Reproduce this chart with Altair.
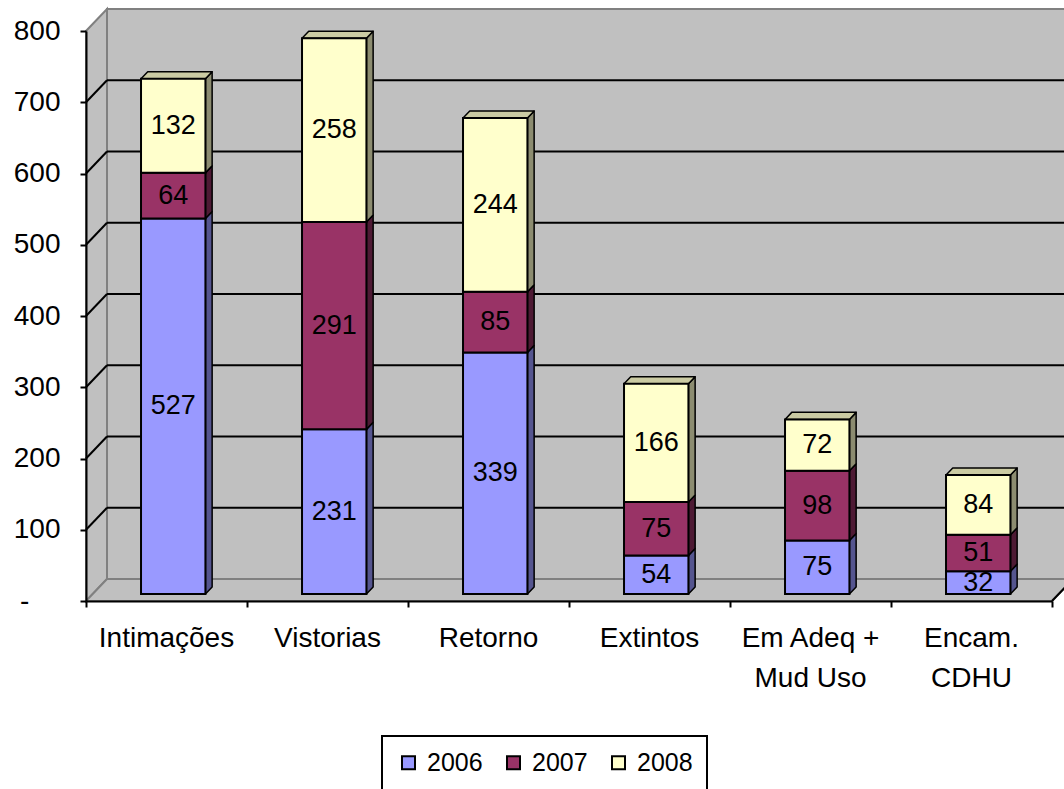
import altair as alt
import pandas as pd

# ---------------- data ----------------
categories = ["Intimações", "Vistorias", "Retorno", "Extintos", "Em Adeq +\nMud Uso", "Encam.\nCDHU"]
years = ["2006", "2007", "2008"]
v2006 = [527, 231, 339, 54, 75, 32]
v2007 = [64, 291, 85, 75, 98, 51]
v2008 = [132, 258, 244, 166, 72, 84]
y_ticks = [0, 100, 200, 300, 400, 500, 600, 700, 800]

front_colors = ["#9999FF", "#993366", "#FFFFCC"]
side_colors = ["#55558F", "#4E1A34", "#8C8C70"]
top_colors = ["#7A7ABF", "#7A2952", "#CBCBA3"]

# ---------------- geometry (style) ----------------
W, H = 966, 570
PAD = {"left": 86, "top": 31, "right": 12, "bottom": 188}
YMAX = 800
NCAT = len(categories)
px_x = W / NCAT          # pixels per category unit
px_y = H / YMAX          # pixels per value unit
wdx = 21 / px_x          # wall depth (x, in category units)
wdy = 22 / px_y          # wall depth (y, in value units)
f0, fd, bw = 0.32, 0.32, 0.4   # bar front offset, bar depth, bar width

series = [v2006, v2007, v2008]

front_rows, side_rows, top_rows, label_rows = [], [], [], []
for i, cat in enumerate(categories):
    lo = 0
    xl = i + (1 - bw) / 2 + f0 * wdx
    xr = xl + bw
    for k, yr in enumerate(years):
        v = series[k][i]
        hi = lo + v
        y0 = lo + f0 * wdy
        y1 = hi + f0 * wdy
        front_rows.append({"x": xl, "x2": xr, "y": y0, "y2": y1, "year": yr})
        sid = f"{i}-{k}"
        side_rows.append({"id": sid, "x": xr, "y": y0, "y2": y1, "c": side_colors[k]})
        side_rows.append({"id": sid, "x": xr + fd * wdx, "y": y0 + fd * wdy,
                          "y2": y1 + fd * wdy, "c": side_colors[k]})
        label_rows.append({"cx": (xl + xr) / 2, "cy": (y0 + y1) / 2, "v": v})
        if k == len(years) - 1:
            top_rows.append({"id": sid, "y": y1, "x": xl, "x2": xr, "c": top_colors[k]})
            top_rows.append({"id": sid, "y": y1 + fd * wdy, "x": xl + fd * wdx,
                             "x2": xr + fd * wdx, "c": top_colors[k]})
        lo = hi

front_df = pd.DataFrame(front_rows)
side_df = pd.DataFrame(side_rows)
top_df = pd.DataFrame(top_rows)
label_df = pd.DataFrame(label_rows)
cat_df = pd.DataFrame({"cx": [i + 0.5 for i in range(NCAT)], "cy": [0] * NCAT, "cat": categories})

back_df = pd.DataFrame({"x": [wdx], "x2": [NCAT + wdx], "y": [wdy], "y2": [YMAX + wdy]})
left_df = pd.DataFrame({"x": [0, wdx], "y": [0, wdy], "y2": [YMAX, YMAX + wdy]})
floor_df = pd.DataFrame({"y": [0, wdy], "x": [0, wdx], "x2": [NCAT, NCAT + wdx]})
grid_vals = y_ticks[1:-1]
gback_df = pd.DataFrame({"xa": [wdx] * len(grid_vals), "xb": [NCAT + wdx] * len(grid_vals),
                         "ya": [g + wdy for g in grid_vals]})
gleft_df = pd.DataFrame({"xa": [0] * len(grid_vals), "xb": [wdx] * len(grid_vals),
                         "ya": grid_vals, "yb": [g + wdy for g in grid_vals]})
fedge_df = pd.DataFrame({"xa": [NCAT], "xb": [NCAT + wdx], "ya": [0], "yb": [wdy]})

# ---------------- scales / axes ----------------
XS = alt.Scale(domain=[0, NCAT], nice=False, zero=False)
YS = alt.Scale(domain=[0, YMAX], nice=False, zero=False)
AX = alt.Axis(title=None, values=list(range(NCAT + 1)), labels=False, grid=False,
              domainColor="black", domainWidth=2, tickColor="black", tickWidth=2,
              tickSize=6, zindex=1)
AY = alt.Axis(title=None, values=y_ticks, grid=False, domainColor="black", domainWidth=2,
              tickColor="black", tickWidth=2, tickSize=6, labelPadding=20,
              labelFontSize=28, labelColor="black", labelFont="Liberation Sans",
              labelExpr="datum.value == 0 ? '-\u00a0\u00a0\u00a0\u00a0\u200b' : datum.label",
              zindex=1)


def X(f, **kw):
    return alt.X(f, scale=XS, axis=AX, **kw)


def Y(f, **kw):
    return alt.Y(f, scale=YS, axis=AY, **kw)


back = alt.Chart(back_df).mark_rect(fill="#C0C0C0", stroke="#808080", strokeWidth=2).encode(
    x=X("x:Q"), x2="x2:Q", y=Y("y:Q"), y2="y2:Q")

left = alt.Chart(left_df).mark_area(fill="#C0C0C0", stroke="#808080", strokeWidth=2).encode(
    x=X("x:Q"), y=Y("y:Q", stack=None), y2="y2:Q")

floor = alt.Chart(floor_df).mark_area(orient="horizontal", fill="#C0C0C0", stroke="#808080",
                                      strokeWidth=2).encode(
    y=Y("y:Q"), x=X("x:Q", stack=None), x2="x2:Q")

fedge = alt.Chart(fedge_df).mark_rule(color="black", strokeWidth=2).encode(
    x=X("xa:Q"), x2="xb:Q", y=Y("ya:Q"), y2="yb:Q")

gback = alt.Chart(gback_df).mark_rule(color="black", strokeWidth=2).encode(
    x=X("xa:Q"), x2="xb:Q", y=Y("ya:Q"))

gleft = alt.Chart(gleft_df).mark_rule(color="black", strokeWidth=2).encode(
    x=X("xa:Q"), x2="xb:Q", y=Y("ya:Q"), y2="yb:Q")

sides = alt.Chart(side_df).mark_area(stroke="black", strokeWidth=1.5, strokeJoin="round").encode(
    x=X("x:Q"), y=Y("y:Q", stack=None), y2="y2:Q", detail="id:N",
    fill=alt.Fill("c:N", scale=None))

tops = alt.Chart(top_df).mark_area(orient="horizontal", stroke="black", strokeWidth=1.5,
                                   strokeJoin="round").encode(
    y=Y("y:Q"), x=X("x:Q", stack=None), x2="x2:Q", detail="id:N",
    fill=alt.Fill("c:N", scale=None))

fronts = alt.Chart(front_df).mark_rect(stroke="black", strokeWidth=2).encode(
    x=X("x:Q"), x2="x2:Q", y=Y("y:Q"), y2="y2:Q",
    color=alt.Color("year:N", scale=alt.Scale(domain=years, range=front_colors),
                    legend=alt.Legend(title=None, orient="none", legendX=296, legendY=705,
                                      direction="horizontal", symbolType="square",
                                      symbolSize=169, symbolStrokeColor="black",
                                      symbolStrokeWidth=2, labelFontSize=25,
                                      labelFont="Liberation Sans", labelColor="black",
                                      labelOffset=6, columnPadding=18, padding=14,
                                      strokeColor="black", fillColor="white")))

vlabels = alt.Chart(label_df).mark_text(fontSize=27, font="Liberation Sans", color="black",
                                        baseline="middle", align="center").encode(
    x=X("cx:Q"), y=Y("cy:Q"), text="v:Q")

clabels = alt.Chart(cat_df).mark_text(fontSize=28, font="Liberation Sans", color="black",
                                      baseline="alphabetic", align="center", dy=46,
                                      lineBreak="\n", lineHeight=40).encode(
    x=X("cx:Q"), y=Y("cy:Q"), text="cat:N")

chart = alt.layer(back, left, floor, fedge, gback, gleft, sides, tops, fronts, vlabels,
                  clabels).properties(
    width=W, height=H,
    autosize=alt.AutoSizeParams(type="none"),
    padding=PAD,
    background="white",
).configure_view(strokeWidth=0).configure_legend(strokeWidth=2)

chart.save("out.html", embed_options={"renderer": "svg", "actions": False})
